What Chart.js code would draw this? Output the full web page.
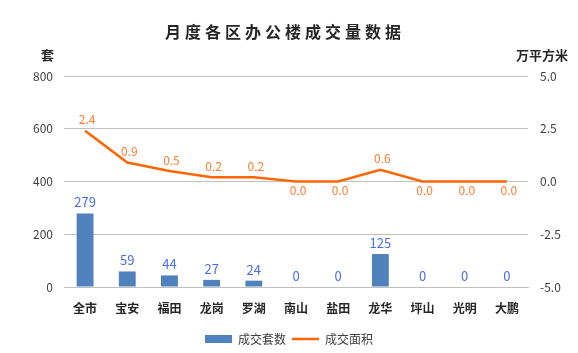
<!DOCTYPE html>
<html>
<head>
<meta charset="utf-8">
<script src="https://cdn.jsdelivr.net/npm/chart.js@4/dist/chart.umd.min.js"></script>
<style>
  html, body { margin: 0; padding: 0; background: #fff; }
  #wrap { width: 578px; height: 353px; }
</style>
</head>
<body>
<div id="wrap"><canvas id="officeChart" width="578" height="353"></canvas></div>
<script>
// Monthly office transactions per district
const districts = ['全市', '宝安', '福田', '龙岗', '罗湖', '南山', '盐田', '龙华', '坪山', '光明', '大鹏'];
const unitsSold = [279, 59, 44, 27, 24, 0, 0, 125, 0, 0, 0];
const areaSold = [2.4, 0.9, 0.5, 0.2, 0.2, 0.0, 0.0, 0.55, 0.0, 0.0, 0.0];
const leftTicks = [0, 200, 400, 600, 800];
const rightTicks = [-5, -2.5, 0, 2.5, 5];
// which line labels sit under the point
const areaLabelBelow = [false, false, false, false, false, true, true, false, true, true, true];

const FONT = '"Noto Sans CJK SC", "Noto Sans", sans-serif';

const labelsPlugin = {
    id: 'labelsPlugin',
    afterDatasetsDraw(chart) {
        const ctx = chart.ctx;
        ctx.save();
        ctx.textAlign = 'center';
        ctx.textBaseline = 'middle';

        // bar values
        ctx.font = '13px ' + FONT;
        ctx.fillStyle = '#4a6cf2';
        chart.getDatasetMeta(0).data.forEach(function(bar, i) {
            ctx.fillText(String(unitsSold[i]), bar.x, bar.y - 11);
        });

        // line values
        ctx.font = '12px ' + FONT;
        ctx.fillStyle = '#ff7b2e';
        chart.getDatasetMeta(1).data.forEach(function(pt, i) {
            const dy = areaLabelBelow[i] ? 9 : -11;
            ctx.fillText(areaSold[i].toFixed(1), pt.x + 2, pt.y + dy);
        });
        ctx.restore();
    },
    afterDraw(chart) {
        const ctx = chart.ctx;
        ctx.save();
        // title
        ctx.font = 'bold 16px ' + FONT;
        ctx.fillStyle = '#262626';
        ctx.textBaseline = 'middle';
        ctx.letterSpacing = '4px';
        const title = '月度各区办公楼成交量数据';
        const w = ctx.measureText(title).width - 4;
        ctx.textAlign = 'left';
        ctx.fillText(title, 283 - w / 2, 32);
        ctx.letterSpacing = '0px';

        // axis unit titles
        ctx.font = 'bold 13px ' + FONT;
        ctx.fillStyle = '#262626';
        ctx.textAlign = 'right';
        ctx.fillText('套', 54, 55);
        ctx.textAlign = 'left';
        ctx.fillText('万平方米', 516, 55);
        ctx.restore();
    }
};

const ctx = document.getElementById('officeChart').getContext('2d');
const officeChart = new Chart(ctx, {
    type: 'bar',
    data: {
        labels: districts,
        datasets: [{
            type: 'bar',
            label: '成交套数',
            data: unitsSold,
            backgroundColor: '#4f81bd',
            yAxisID: 'y',
            barPercentage: 0.4,
            categoryPercentage: 1,
            pointStyle: 'rect',
            order: 2
        }, {
            type: 'line',
            label: '成交面积',
            data: areaSold,
            borderColor: '#ff6600',
            backgroundColor: '#ff6600',
            borderWidth: 2.5,
            tension: 0,
            pointRadius: 0,
            pointHoverRadius: 0,
            yAxisID: 'y1',
            pointStyle: 'line',
            order: 1
        }]
    },
    options: {
        responsive: false,
        animation: false,
        layout: {
            padding: { top: 76, left: 0, right: 0, bottom: -2 }
        },
        plugins: {
            title: { display: false },
            tooltip: { enabled: false },
            legend: {
                display: true,
                position: 'bottom',
                labels: {
                    usePointStyle: true,
                    boxWidth: 27,
                    boxHeight: 8,
                    pointStyleWidth: 27,
                    padding: 6,
                    color: '#404040',
                    font: { size: 12, family: FONT },
                    sort: function(a, b) { return a.datasetIndex - b.datasetIndex; }
                }
            }
        },
        scales: {
            x: {
                grid: { display: false, drawTicks: false },
                border: { display: true, color: '#bfbfbf', width: 1 },
                ticks: {
                    padding: 14,
                    color: '#262626',
                    font: { size: 12, weight: 'bold', family: FONT }
                },
                afterFit: function(scale) { scale.height = 40; }
            },
            y: {
                position: 'left',
                min: 0,
                max: 800,
                afterBuildTicks: function(scale) {
                    scale.ticks = leftTicks.map(function(v) { return { value: v }; });
                },
                grid: { color: '#c0c0c0', drawTicks: false },
                border: { display: false },
                ticks: {
                    padding: 11,
                    color: '#404040',
                    font: { size: 12, family: FONT }
                },
                afterFit: function(scale) { scale.width = 64; }
            },
            y1: {
                position: 'right',
                min: -5,
                max: 5,
                afterBuildTicks: function(scale) {
                    scale.ticks = rightTicks.map(function(v) { return { value: v }; });
                },
                grid: { display: false, drawTicks: false },
                border: { display: false },
                ticks: {
                    padding: 12,
                    color: '#404040',
                    font: { size: 12, family: FONT },
                    callback: function(value) { return Number(value).toFixed(1); }
                },
                afterFit: function(scale) { scale.width = 50; }
            }
        }
    },
    plugins: [labelsPlugin]
});
</script>
</body>
</html>
